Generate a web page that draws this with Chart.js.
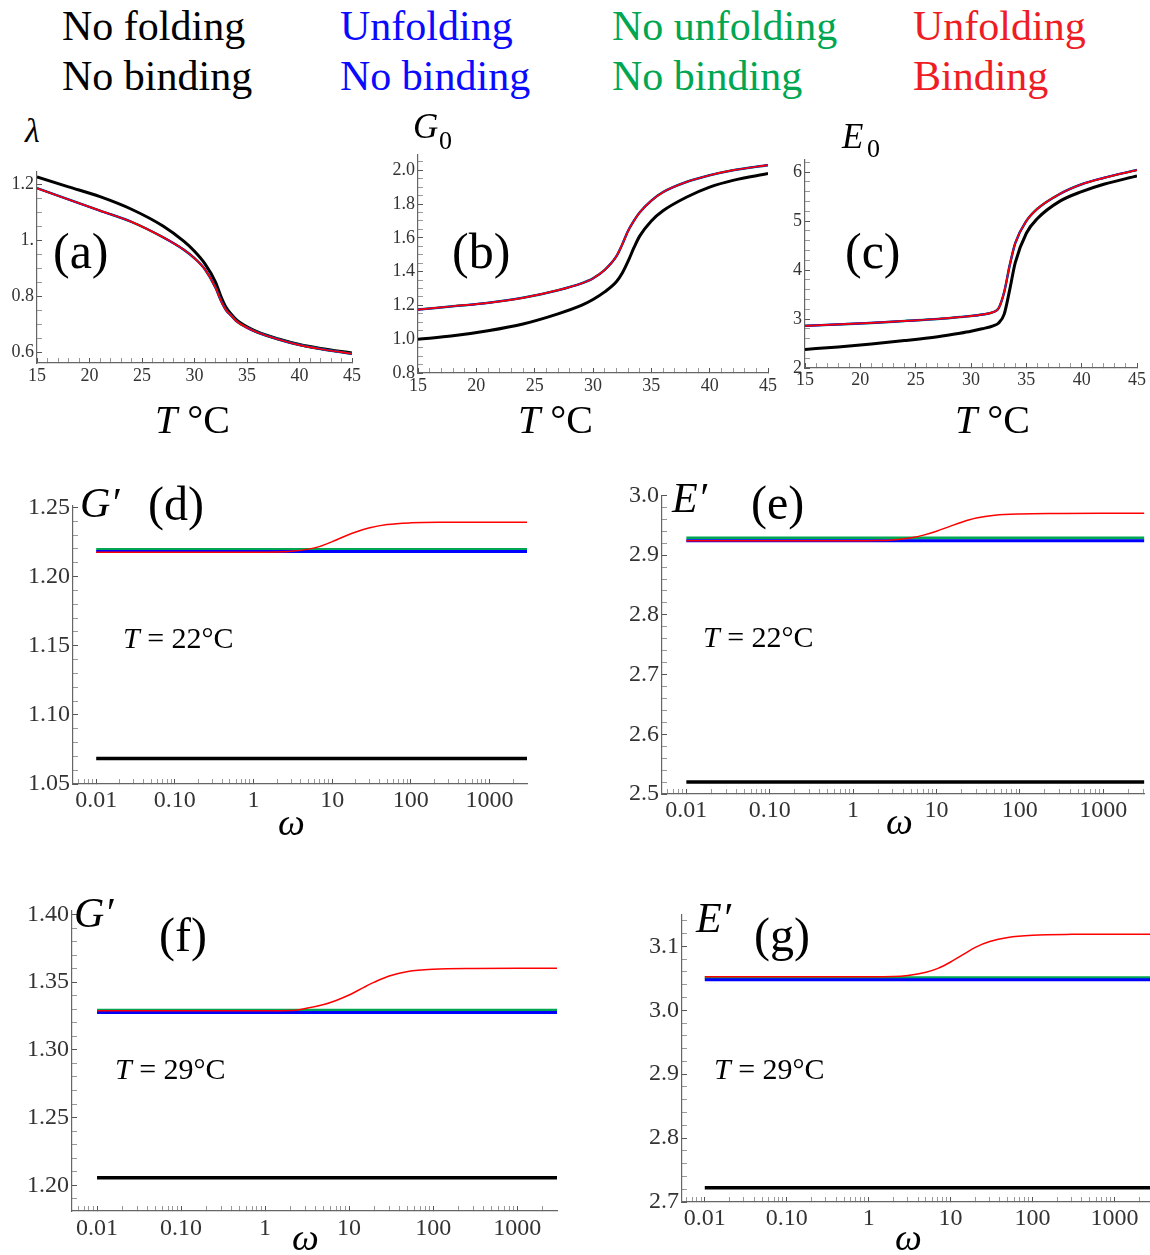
<!DOCTYPE html>
<html>
<head>
<meta charset="utf-8">
<script src="https://cdn.jsdelivr.net/npm/chart.js@4.4.1/dist/chart.umd.min.js"></script>
<style>
  body { margin: 0; background: #fff; }
  #fig { position: relative; width: 1150px; height: 1255px; overflow: hidden; font-family: 'Liberation Serif', 'Times New Roman', serif; }
  #fig canvas { position: absolute; }
  .t { position: absolute; line-height: 1; white-space: nowrap; color: #000; }
  .i { font-style: italic; }
</style>
</head>
<body>
<div id="fig">
  <!-- leyenda de arriba -->
  <div class="t" style="left:62px;top:5px;font-size:42px;">No folding</div>
  <div class="t" style="left:62px;top:55px;font-size:42px;">No binding</div>
  <div class="t" style="left:340px;top:5px;font-size:42px;color:#0a0aff;">Unfolding</div>
  <div class="t" style="left:340px;top:55px;font-size:42px;color:#0a0aff;">No binding</div>
  <div class="t" style="left:612px;top:5px;font-size:42px;color:#00a651;">No unfolding</div>
  <div class="t" style="left:612px;top:55px;font-size:42px;color:#00a651;">No binding</div>
  <div class="t" style="left:913px;top:5px;font-size:42px;color:#ee1c24;">Unfolding</div>
  <div class="t" style="left:913px;top:55px;font-size:42px;color:#ee1c24;">Binding</div>

  <!-- fila de arriba -->
  <div class="t i" style="left:25px;top:114px;font-size:34px;">λ</div>
  <div class="t i" style="left:413px;top:109px;font-size:35px;">G</div>
  <div class="t" style="left:439px;top:128px;font-size:26px;">0</div>
  <div class="t i" style="left:842px;top:119px;font-size:35px;">E</div>
  <div class="t" style="left:867px;top:136px;font-size:26px;">0</div>
  <div class="t" style="left:53px;top:226px;font-size:50px;">(a)</div>
  <div class="t" style="left:452px;top:226px;font-size:50px;">(b)</div>
  <div class="t" style="left:845px;top:226px;font-size:50px;">(c)</div>
  <div class="t" style="left:155px;top:400px;font-size:40px;"><span class="i">T</span> °C</div>
  <div class="t" style="left:518px;top:400px;font-size:40px;"><span class="i">T</span> °C</div>
  <div class="t" style="left:955px;top:400px;font-size:40px;"><span class="i">T</span> °C</div>

  <!-- fila del medio -->
  <div class="t i" style="left:80px;top:482px;font-size:42px;">G′</div>
  <div class="t" style="left:148px;top:480px;font-size:48px;">(d)</div>
  <div class="t" style="left:123px;top:623px;font-size:30px;"><span class="i">T</span> = 22°C</div>
  <div class="t i" style="left:278px;top:803px;font-size:38px;">ω</div>
  <div class="t i" style="left:672px;top:477px;font-size:42px;">E′</div>
  <div class="t" style="left:751px;top:479px;font-size:48px;">(e)</div>
  <div class="t" style="left:703px;top:622px;font-size:30px;"><span class="i">T</span> = 22°C</div>
  <div class="t i" style="left:886px;top:802px;font-size:38px;">ω</div>

  <!-- fila de abajo -->
  <div class="t i" style="left:74px;top:892px;font-size:42px;">G′</div>
  <div class="t" style="left:159px;top:911px;font-size:48px;">(f)</div>
  <div class="t" style="left:115px;top:1054px;font-size:30px;"><span class="i">T</span> = 29°C</div>
  <div class="t i" style="left:292px;top:1218px;font-size:38px;">ω</div>
  <div class="t i" style="left:696px;top:897px;font-size:42px;">E′</div>
  <div class="t" style="left:754px;top:911px;font-size:48px;">(g)</div>
  <div class="t" style="left:714px;top:1054px;font-size:30px;"><span class="i">T</span> = 29°C</div>
  <div class="t i" style="left:895px;top:1218px;font-size:38px;">ω</div>
</div>

<script>
// temperatura (°C) para las curvas de arriba
const tempT = [15, 18, 21, 24, 27, 29, 30, 31, 32, 32.5, 33, 33.5, 34, 35, 36, 38, 40, 42, 45];

// (a) lambda
const lambdaNoFold = [1.225, 1.19, 1.155, 1.11, 1.05, 0.995, 0.96, 0.915, 0.85, 0.80, 0.76, 0.735, 0.715, 0.69, 0.672, 0.647, 0.627, 0.613, 0.597];
const lambdaUnfold = [1.185, 1.145, 1.105, 1.065, 1.01, 0.965, 0.935, 0.895, 0.83, 0.785, 0.75, 0.73, 0.71, 0.687, 0.67, 0.645, 0.625, 0.611, 0.594];

// (b) G0
const g0NoFold = [1.0, 1.02, 1.05, 1.09, 1.15, 1.2, 1.235, 1.28, 1.34, 1.39, 1.46, 1.54, 1.61, 1.70, 1.76, 1.84, 1.90, 1.94, 1.98];
const g0Unfold = [1.175, 1.195, 1.215, 1.245, 1.29, 1.33, 1.36, 1.41, 1.49, 1.56, 1.64, 1.70, 1.75, 1.82, 1.87, 1.93, 1.97, 2.0, 2.03];

// (c) E0
const e0NoFold = [2.38, 2.43, 2.49, 2.56, 2.64, 2.71, 2.75, 2.80, 2.86, 2.92, 3.1, 3.6, 4.15, 4.75, 5.05, 5.4, 5.6, 5.75, 5.92];
const e0Unfold = [2.86, 2.89, 2.92, 2.96, 3.0, 3.04, 3.06, 3.09, 3.14, 3.22, 3.55, 4.1, 4.55, 5.0, 5.25, 5.55, 5.75, 5.88, 6.04];

// frecuencia omega
const omegaShort = [0.01, 0.1, 1, 2, 3, 5, 7, 10, 15, 20, 30, 50, 100, 300, 1000, 3000];
const omegaLong = [0.01, 0.1, 1, 2, 3, 5, 7, 10, 15, 20, 30, 50, 100, 300, 1000, 7000];
const omegaEndsShort = [0.01, 3000];
const omegaEndsLong = [0.01, 7000];

// (d) G' a 22°C
const gD_noFold = [1.0685, 1.0685];
const gD_noUnfold = [1.2195, 1.2195];
const gD_unfold = [1.218, 1.218];
const gD_binding = [1.2175, 1.2175, 1.2175, 1.2177, 1.2182, 1.2198, 1.2218, 1.2252, 1.2295, 1.2322, 1.2352, 1.2376, 1.2388, 1.2392, 1.2393, 1.2393];

// (e) E' a 22°C
const eE_noFold = [2.52, 2.52];
const eE_noUnfold = [2.9285, 2.9285];
const eE_unfold = [2.924, 2.924];
const eE_binding = [2.924, 2.924, 2.924, 2.9243, 2.9255, 2.9292, 2.9335, 2.940, 2.949, 2.955, 2.962, 2.9668, 2.969, 2.9697, 2.97, 2.97];

// (f) G' a 29°C
const gF_noFold = [1.2056, 1.2056];
const gF_noUnfold = [1.3293, 1.3293];
const gF_unfold = [1.3276, 1.3276];
const gF_binding = [1.3288, 1.3288, 1.3288, 1.329, 1.3305, 1.3335, 1.3365, 1.3405, 1.3462, 1.350, 1.3545, 1.3578, 1.3595, 1.3601, 1.3602, 1.3602];

// (g) E' a 29°C
const eG_noFold = [2.7222, 2.7222];
const eG_noUnfold = [3.0508, 3.0508];
const eG_unfold = [3.0477, 3.0477];
const eG_binding = [3.0524, 3.0524, 3.0524, 3.0528, 3.0545, 3.0595, 3.0655, 3.0755, 3.089, 3.0985, 3.1075, 3.114, 3.1175, 3.1188, 3.119, 3.119];

// marcas de los ejes
const tempTicks = [15, 20, 25, 30, 35, 40, 45];
const tempLabels = ['15', '20', '25', '30', '35', '40', '45'];
const omegaTicks = [0.01, 0.1, 1, 10, 100, 1000];
const omegaLabels = ['0.01', '0.10', '1', '10', '100', '1000'];
const yTicksA = [0.6, 0.8, 1.0, 1.2];
const yLabelsA = ['0.6', '0.8', '1.', '1.2'];
const yTicksB = [0.8, 1.0, 1.2, 1.4, 1.6, 1.8, 2.0];
const yLabelsB = ['0.8', '1.0', '1.2', '1.4', '1.6', '1.8', '2.0'];
const yTicksC = [2, 3, 4, 5, 6];
const yLabelsC = ['2', '3', '4', '5', '6'];
const yTicksD = [1.05, 1.10, 1.15, 1.20, 1.25];
const yLabelsD = ['1.05', '1.10', '1.15', '1.20', '1.25'];
const yTicksE = [2.5, 2.6, 2.7, 2.8, 2.9, 3.0];
const yLabelsE = ['2.5', '2.6', '2.7', '2.8', '2.9', '3.0'];
const yTicksF = [1.20, 1.25, 1.30, 1.35, 1.40];
const yLabelsF = ['1.20', '1.25', '1.30', '1.35', '1.40'];
const yTicksG = [2.7, 2.8, 2.9, 3.0, 3.1];
const yLabelsG = ['2.7', '2.8', '2.9', '3.0', '3.1'];

const BLACK = '#000000', GREEN = '#00a651', BLUE = '#0000ff', RED = '#ff0000';
const FONT = "'Liberation Serif', 'Times New Roman', serif";

const pts = (xs, ys) => ys.map((y, i) => ({ x: xs[i], y }));

const linTicks = (majors, labels, step, min, max) => {
    const out = majors.map((v, i) => ({ value: v, lab: labels[i] }));
    for (let k = Math.ceil(min / step - 1e-9); k * step <= max + 1e-9; k++) {
        const v = +(k * step).toFixed(6);
        if (!majors.some(m => Math.abs(m - v) < 1e-9)) out.push({ value: v, lab: '' });
    }
    return out.sort((a, b) => a.value - b.value);
};

const logTicks = (majors, labels, min, max) => {
    const out = majors.map((v, i) => ({ value: v, lab: labels[i] }));
    for (let e = -3; e <= 3; e++) {
        for (let k = 2; k <= 9; k++) {
            const v = k * Math.pow(10, e);
            if (v >= min && v <= max) out.push({ value: v, lab: '' });
        }
    }
    return out.sort((a, b) => a.value - b.value);
};

const fig = document.getElementById('fig');

const panel = (p) => {
    const yw = Math.min(60, p.area.l);
    const pt = 20, xh = 45;
    const pr = p.area.r >= 1150 ? 0 : 14;
    const cv = document.createElement('canvas');
    cv.width = Math.round(p.area.r - p.area.l + yw + pr);
    cv.height = p.area.b - p.area.t + pt + xh;
    cv.style.left = (p.area.l - yw) + 'px';
    cv.style.top = (p.area.t - pt) + 'px';
    fig.insertBefore(cv, fig.firstChild);

    const tickColor = ctx => (ctx.tick && ctx.tick.lab === '') ? '#999' : '#555';
    const axis = (type, min, max, ticks, pad, fit) => ({
        type, min, max, bounds: 'data',
        afterBuildTicks: s => { s.ticks = ticks.map(o => ({ value: o.value, lab: o.lab })); },
        afterFit: fit,
        ticks: {
            autoSkip: false, maxRotation: 0, padding: pad, color: '#333',
            font: { family: FONT, size: p.fontSize },
            callback: (v, i, t) => t[i].lab
        },
        grid: { display: true, drawOnChartArea: false, drawTicks: true, tickLength: -5, tickColor, tickWidth: 1 },
        border: { display: true, color: '#666', width: 1.2 }
    });

    new Chart(cv, {
        type: 'line',
        data: { datasets: p.datasets },
        options: {
            animation: false,
            responsive: false,
            events: [],
            layout: { padding: { left: 0, top: pt, right: pr, bottom: 0 } },
            plugins: { legend: { display: false }, tooltip: { enabled: false } },
            elements: { point: { radius: 0 } },
            scales: {
                x: axis(p.xType, p.xMin, p.xMax, p.xTicks, p.xPad, s => { s.height = xh; }),
                y: axis('linear', p.yMin, p.yMax, p.yTicks, 8, s => { s.width = yw; })
            }
        }
    });
};

const line = (data, color, width) => ({
    data, borderColor: color, borderWidth: width, fill: false,
    cubicInterpolationMode: 'monotone', pointRadius: 0, borderJoinStyle: 'round'
});

// Chart.js pinta el primer dataset encima: rojo, azul, verde, negro (negro abajo)
const tempSets = (noFold, unfold) => [
    line(pts(tempT, unfold), RED, 1.7),
    line(pts(tempT, unfold), BLUE, 2.1),
    line(pts(tempT, unfold), GREEN, 2.5),
    line(pts(tempT, noFold), BLACK, 3)
];

const omegaSets = (ends, xs, noFold, noUnfold, unfold, binding) => [
    line(pts(xs, binding), RED, 1.5),
    line(pts(ends, unfold), BLUE, 3),
    line(pts(ends, noUnfold), GREEN, 3),
    line(pts(ends, noFold), BLACK, 3.5)
];

panel({
    area: { l: 37, t: 172, r: 354, b: 363 }, fontSize: 18, xPad: 7,
    xType: 'linear', xMin: 15, xMax: 45, xTicks: linTicks(tempTicks, tempLabels, 1, 15, 45),
    yMin: 0.561, yMax: 1.243, yTicks: linTicks(yTicksA, yLabelsA, 0.05, 0.561, 1.243),
    datasets: tempSets(lambdaNoFold, lambdaUnfold)
});
panel({
    area: { l: 418, t: 155, r: 770, b: 373 }, fontSize: 18, xPad: 7,
    xType: 'linear', xMin: 15, xMax: 45, xTicks: linTicks(tempTicks, tempLabels, 1, 15, 45),
    yMin: 0.8, yMax: 2.09, yTicks: linTicks(yTicksB, yLabelsB, 0.05, 0.8, 2.09),
    datasets: tempSets(g0NoFold, g0Unfold)
});
panel({
    area: { l: 805, t: 160, r: 1138, b: 368 }, fontSize: 18, xPad: 6,
    xType: 'linear', xMin: 15, xMax: 45, xTicks: linTicks(tempTicks, tempLabels, 1, 15, 45),
    yMin: 2, yMax: 6.245, yTicks: linTicks(yTicksC, yLabelsC, 0.2, 2, 6.245),
    datasets: tempSets(e0NoFold, e0Unfold)
});

const xMinD = Math.pow(10, -2.295), xMaxD = Math.pow(10, 3.477);
panel({
    area: { l: 73, t: 503, r: 527, b: 784 }, fontSize: 24, xPad: 7,
    xType: 'logarithmic', xMin: xMinD, xMax: xMaxD, xTicks: logTicks(omegaTicks, omegaLabels, xMinD, xMaxD),
    yMin: 1.05, yMax: 1.2514, yTicks: linTicks(yTicksD, yLabelsD, 0.01, 1.05, 1.2514),
    datasets: omegaSets(omegaEndsShort, omegaShort, gD_noFold, gD_noUnfold, gD_unfold, gD_binding)
});

const xMinE = Math.pow(10, -2.292), xMaxE = Math.pow(10, 3.491);
panel({
    area: { l: 662, t: 493, r: 1150, b: 794 }, fontSize: 24, xPad: 7,
    xType: 'logarithmic', xMin: xMinE, xMax: xMaxE, xTicks: logTicks(omegaTicks, omegaLabels, xMinE, xMaxE),
    yMin: 2.5, yMax: 3.0, yTicks: linTicks(yTicksE, yLabelsE, 0.02, 2.5, 3.0),
    datasets: omegaSets(omegaEndsLong, omegaLong, eE_noFold, eE_noUnfold, eE_unfold, eE_binding)
});

const xMinF = Math.pow(10, -2.298), xMaxF = Math.pow(10, 3.474);
panel({
    area: { l: 72, t: 908, r: 557, b: 1211 }, fontSize: 24, xPad: 8,
    xType: 'logarithmic', xMin: xMinF, xMax: xMaxF, xTicks: logTicks(omegaTicks, omegaLabels, xMinF, xMaxF),
    yMin: 1.181, yMax: 1.403, yTicks: linTicks(yTicksF, yLabelsF, 0.01, 1.181, 1.403),
    datasets: omegaSets(omegaEndsShort, omegaShort, gF_noFold, gF_noUnfold, gF_unfold, gF_binding)
});

const xMinG = Math.pow(10, -2.278), xMaxG = Math.pow(10, 3.433);
panel({
    area: { l: 682, t: 912, r: 1150, b: 1202 }, fontSize: 24, xPad: 7,
    xType: 'logarithmic', xMin: xMinG, xMax: xMaxG, xTicks: logTicks(omegaTicks, omegaLabels, xMinG, xMaxG),
    yMin: 2.7, yMax: 3.15, yTicks: linTicks(yTicksG, yLabelsG, 0.02, 2.7, 3.15),
    datasets: omegaSets(omegaEndsLong, omegaLong, eG_noFold, eG_noUnfold, eG_unfold, eG_binding)
});
</script>
</body>
</html>
